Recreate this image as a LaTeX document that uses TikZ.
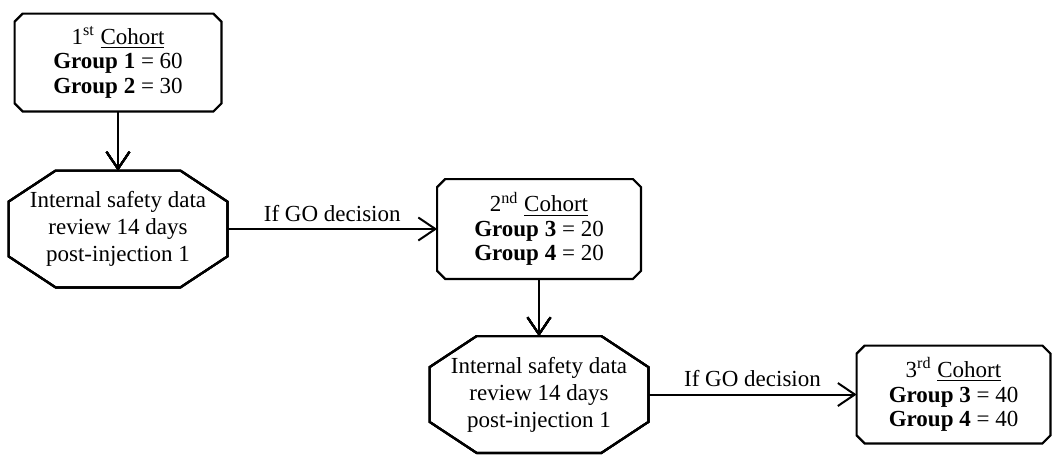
\documentclass[tikz,border=0pt]{standalone}
\usepackage{fontspec}
\setmainfont{Liberation Serif}
\usepackage{tikz}
\usetikzlibrary{arrows.meta}
\tikzstyle{cohort}=[rectangle,align=center,minimum width=103pt,minimum height=48.5pt,inner sep=0pt,font=\fontsize{11.5}{12.25}\selectfont]
\tikzstyle{review}=[rectangle,align=center,minimum width=109pt,minimum height=58pt,inner sep=0pt,font=\fontsize{11.5}{13.5}\selectfont]
\tikzstyle{outline}=[draw,line width=1.1pt,line join=miter]
\tikzstyle{edge} = [draw,line width=1pt,-{Straight Barb[length=8.5pt,width=11.5pt]}]
% corner-cut frame round a node: #1 node, #2 x cut, #3 y cut
\newcommand{\cutframe}[3]{%
    \path[outline] ([xshift=#2]#1.north west) -- ([xshift=-#2]#1.north east)
        -- ([yshift=-#3]#1.north east) -- ([yshift=#3]#1.south east)
        -- ([xshift=-#2]#1.south east) -- ([xshift=#2]#1.south west)
        -- ([yshift=#3]#1.south west) -- ([yshift=-#3]#1.north west) -- cycle;}

\begin{document}
\begin{tikzpicture}[x=0.5pt,y=-0.5pt]
    \useasboundingbox (0,0) rectangle (1052,455);
    % cohorts and safety reviews
    \node[cohort] (C1) at (118,62.5) {1\textsuperscript{st} \underline{Cohort}\\\textbf{Group 1} = 60\\\textbf{Group 2} = 30};
    \node[review] (R1) at (118,229) {Internal safety data\\review 14 days\\post-injection 1};
    \node[cohort,minimum width=101.5pt,minimum height=49.5pt] (C2) at (539,229) {2\textsuperscript{nd} \underline{Cohort}\\\textbf{Group 3} = 20\\\textbf{Group 4} = 20};
    \node[review] (R2) at (539,394.5) {Internal safety data\\review 14 days\\post-injection 1};
    \node[cohort,minimum width=96.5pt] (C3) at (953.5,394.5) {3\textsuperscript{rd} \underline{Cohort}\\\textbf{Group 3} = 40\\\textbf{Group 4} = 40};
    % frames
    \foreach \name in {C1, C2, C3}
        \cutframe{\name}{4pt}{4pt}
    \foreach \name in {R1, R2}
        \cutframe{\name}{23.5pt}{15.5pt}
    % connect them
    \foreach \source/ \dest in {C1/R1, C2/R2}
        \path[edge] (\source) -- (\dest);
    \foreach \source/ \dest in {R1/C2, R2/C3}
        \path[edge] (\source) -- node[above,font=\fontsize{11.5}{13}\selectfont] {If GO decision} (\dest);
\end{tikzpicture}
\end{document}
